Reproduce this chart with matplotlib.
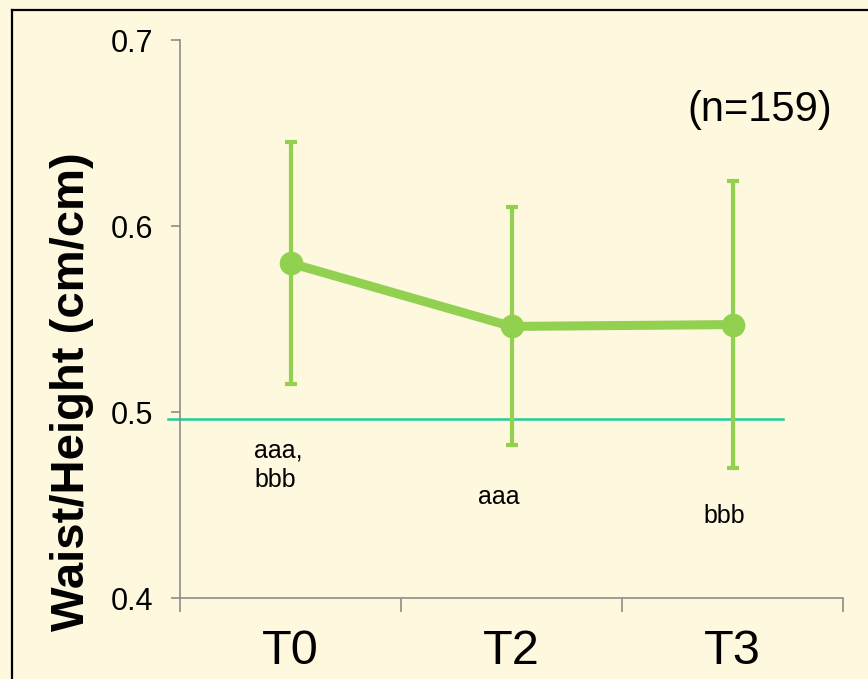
import matplotlib
matplotlib.use("Agg")
import matplotlib.pyplot as plt
from matplotlib.lines import Line2D

categories = ["T0", "T2", "T3"]
means = [0.580, 0.546, 0.547]
sds = [0.065, 0.064, 0.077]
reference_value = 0.496
sig_labels = [["aaa,", "bbb"], ["aaa"], ["bbb"]]
yticks = [0.4, 0.5, 0.6, 0.7]
ytick_labels = ["0.4", "0.5", "0.6", "0.7"]

plt.rcParams['font.family'] = ['Liberation Sans', 'DejaVu Sans']

bg = '#FEF8DE'
green = '#92D050'
axis_gray = '#8C8C8C'

fig = plt.figure(figsize=(8.68, 6.79), dpi=100, facecolor=bg)
ax = fig.add_axes([180/868, 1-598/679, 663/868, 558/679])
ax.set_facecolor(bg)

x = list(range(len(categories)))
ax.errorbar(x, means, yerr=sds, color=green, lw=6.5, marker='o', ms=16,
            elinewidth=3, capsize=4.5, capthick=3, zorder=3)

ax.plot([-0.554, 2.229], [reference_value, reference_value], color='#1ECF9B',
        lw=1.8, clip_on=False, zorder=2)

ax.set_xlim(-0.5, 2.5)
ax.set_ylim(0.4, 0.7)
ax.set_yticks(yticks)
ax.set_yticklabels(ytick_labels, fontsize=22)
ax.tick_params(axis='y', length=6.5, width=1.2, color=axis_gray, pad=13)

ax.set_xticks([-0.5, 0.5, 1.5, 2.5])
ax.set_xticklabels([])
ax.tick_params(axis='x', which='major', length=10, width=1.2, color=axis_gray)
ax.set_xticks(x, minor=True)
ax.set_xticklabels(categories, minor=True, fontsize=35)
ax.tick_params(axis='x', which='minor', length=0, pad=22)

for s in ['top', 'right']:
    ax.spines[s].set_visible(False)
for s in ['left', 'bottom']:
    ax.spines[s].set_color(axis_gray)
    ax.spines[s].set_linewidth(1.2)

# significance labels
ax.text(-0.165, 0.4758, sig_labels[0][0], fontsize=18, ha='left', va='baseline')
ax.text(-0.165, 0.4597, sig_labels[0][1], fontsize=18, ha='left', va='baseline')
ax.text(0.848, 0.4505, sig_labels[1][0], fontsize=18, ha='left', va='baseline')
ax.text(1.867, 0.4403, sig_labels[2][0], fontsize=18, ha='left', va='baseline')

fig.text(760/868, 1-110/679, "(n=159)", fontsize=30, ha='center', va='center')
fig.text(72/868, 1-392/679, "Waist/Height (cm/cm)", fontsize=34, fontweight='bold',
         rotation=90, ha='center', va='center')

# outer frame (top and left visible)
fig.add_artist(Line2D([12/868, 1.0], [1-10/679, 1-10/679], transform=fig.transFigure,
                      color='black', lw=1.6))
fig.add_artist(Line2D([12/868, 12/868], [0.0, 1-10/679], transform=fig.transFigure,
                      color='black', lw=1.6))

fig.savefig("out.png", dpi=100, facecolor=bg)
